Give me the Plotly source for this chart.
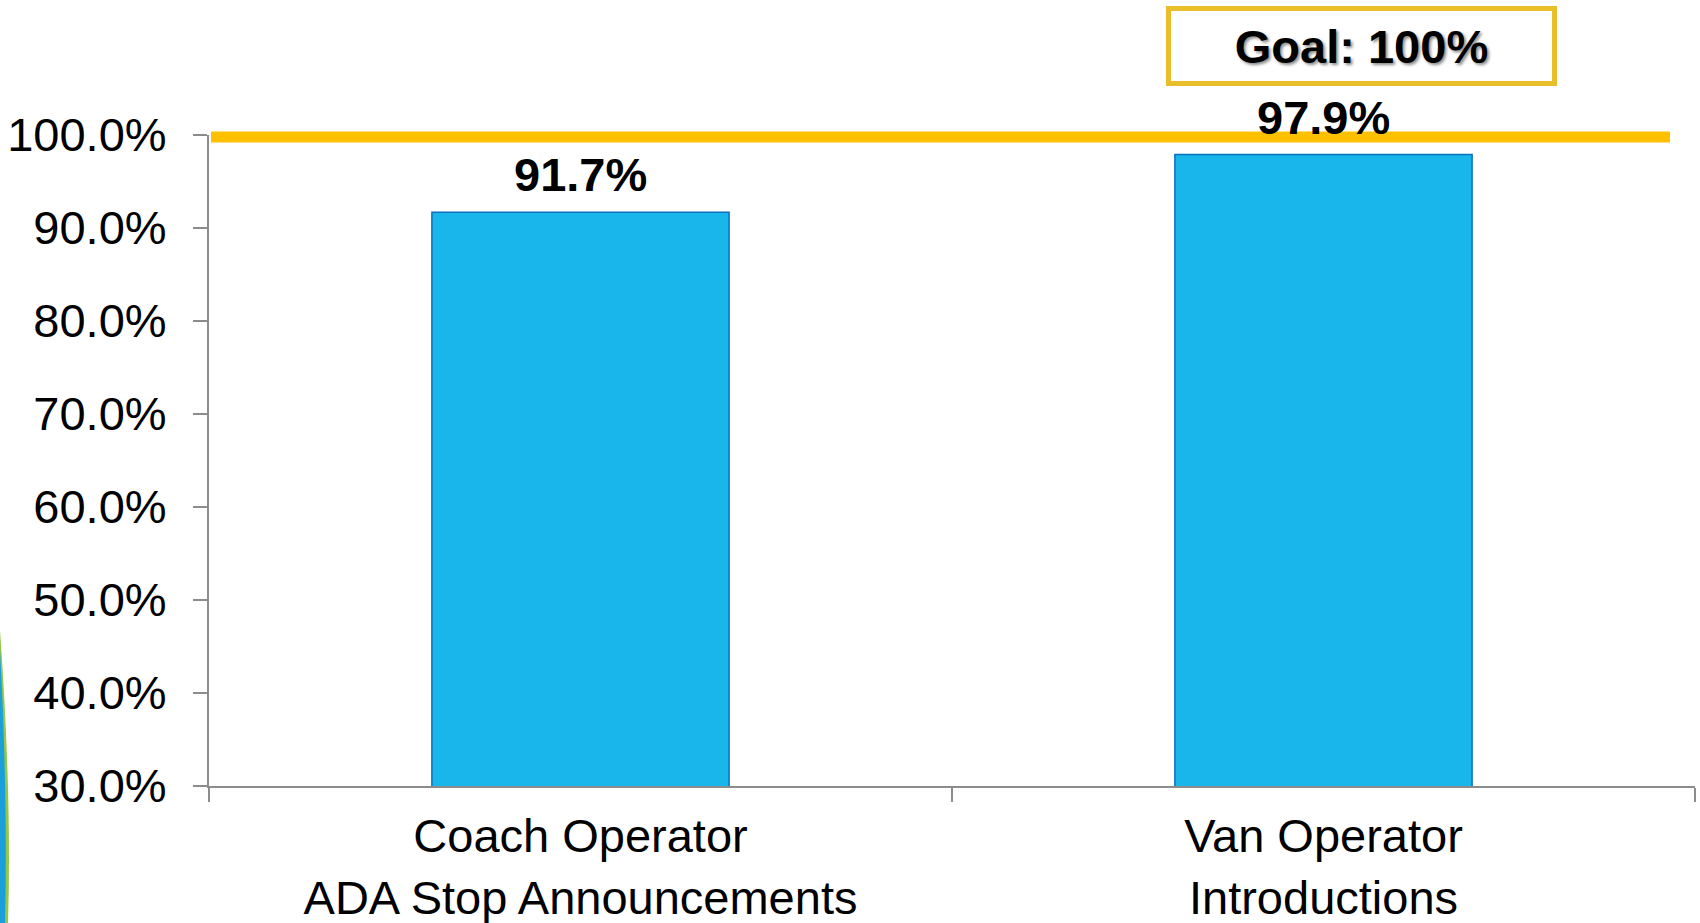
import plotly.graph_objects as go

# ---- data ----
categories = ["Coach Operator<br>ADA Stop Announcements", "Van Operator<br>Introductions"]
values = [0.917, 0.979]
goal_value = 1.0
goal_label = "Goal: 100%"
y_ticks = [0.3, 0.4, 0.5, 0.6, 0.7, 0.8, 0.9, 1.0]
y_range = [0.3, 1.0]

FONT = "Liberation Sans, Arial, sans-serif"
W, H = 1700, 923
ML, MR, MT, MB = 209, 5, 135, 137
PW, PH = W - ML - MR, H - MT - MB


def px(xpix):
    return (xpix - ML) / PW


def py(ypix):
    return (H - MB - ypix) / PH


fig = go.Figure()
fig.add_trace(go.Bar(
    x=categories,
    y=values,
    width=0.40,
    marker=dict(color="#18B6EA", line=dict(color="#0B6FBE", width=1.5)),
    hoverinfo="x+y",
    showlegend=False,
))

annotations = []
for c, v in zip(categories, values):
    annotations.append(dict(
        x=c, y=v, xref="x", yref="y",
        text=f"{v*100:.1f}%",
        showarrow=False, yanchor="bottom", xanchor="center", yshift=9,
        font=dict(family=FONT, size=47, color="black", weight="bold"),
    ))

annotations.append(dict(
    x=px(1361), y=py(46), xref="paper", yref="paper",
    text=goal_label, showarrow=False, xanchor="center", yanchor="middle",
    width=381, height=70, borderwidth=5, borderpad=0,
    bordercolor="#E9BE2B", bgcolor="white",
    font=dict(family=FONT, size=47, color="black", weight="bold",
              shadow="2px 2px 3px rgba(0,0,0,0.45)"),
))

# goal line position in paper units (so the thick line is not clipped by the plot area)
goal_paper = (goal_value - y_range[0]) / (y_range[1] - y_range[0]) - 2 / PH

shapes = [
    dict(type="line", xref="paper", yref="paper", x0=px(211), x1=px(1670),
         y0=goal_paper, y1=goal_paper, line=dict(color="#FFC000", width=11), layer="above"),
    # slide decoration at left edge
    dict(type="path", xref="paper", yref="paper",
         path=f"M {px(0)} {py(630)} Q {px(12)} {py(800)} {px(8)} {py(923)} L {px(0)} {py(923)} Z",
         fillcolor="#92C94A", line=dict(width=0), layer="above"),
    dict(type="path", xref="paper", yref="paper",
         path=f"M {px(0)} {py(650)} Q {px(8)} {py(800)} {px(5)} {py(923)} L {px(0)} {py(923)} Z",
         fillcolor="#1A9FDB", line=dict(width=0), layer="above"),
]

fig.update_layout(
    width=W, height=H,
    margin=dict(l=ML, r=MR, t=MT, b=MB, pad=0, autoexpand=False),
    plot_bgcolor="white", paper_bgcolor="white",
    font=dict(family=FONT, color="black"),
    annotations=annotations,
    shapes=shapes,
    xaxis=dict(
        type="category", range=[-0.5, 1.5], automargin=False,
        showline=True, linecolor="#8C8C8C", linewidth=2,
        ticks="outside", tickson="boundaries", ticklen=14, tickwidth=2, tickcolor="#8C8C8C",
        tickfont=dict(family=FONT, size=47, color="black"),
        ticklabelstandoff=8,
        showgrid=False, zeroline=False,
    ),
    yaxis=dict(
        range=y_range, automargin=False,
        tickvals=y_ticks, tickformat=".1%",
        showline=True, linecolor="#8C8C8C", linewidth=2,
        ticks="outside", ticklen=14, tickwidth=2, tickcolor="#8C8C8C",
        tickfont=dict(family=FONT, size=47, color="black"),
        ticklabelstandoff=17,
        showgrid=False, zeroline=False,
    ),
    bargap=0.6,
)

fig.write_html("out.html", config={"displayModeBar": False},
               post_script="document.body.style.margin='0';")
